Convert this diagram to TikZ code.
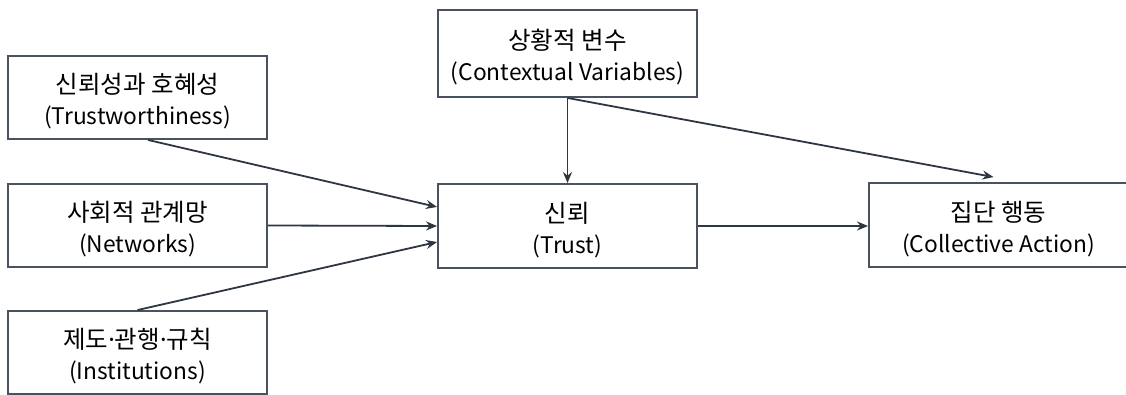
\documentclass[tikz,border=0pt]{standalone}
\usepackage{fontspec}
\setmainfont{Noto Sans CJK KR}
\newfontfamily\dotfont{Noto Sans}
\usetikzlibrary{arrows.meta,positioning}
\definecolor{boxline}{HTML}{4A5260}
\definecolor{arrline}{HTML}{2E3642}
% Korean title line and the English line below it
\newcommand{\kor}[1]{{\fontsize{24.5}{31}\selectfont\rule{0pt}{28pt}#1}}
\newcommand{\mdot}{{\dotfont ·}}
\tikzset{
  blk/.style   ={rectangle,draw=boxline,line width=1.9pt,fill=white,
                 minimum width=259pt,minimum height=83pt,inner sep=0pt,
                 align=center,font=\fontsize{22.8}{31}\selectfont},
  ed/.style    ={-{Stealth[length=11pt,width=9pt]},draw=arrline,line width=1.8pt},
}

\begin{document}
\begin{tikzpicture}[x=1pt, y=1pt]
\useasboundingbox (0,0) rectangle (1126,394);

%% ---------------- boxes ----------------
\node[blk] (trustw) at (137.5,296.5) {\kor{신뢰성과 호혜성}\\(Trustworthiness)};
\node[blk] (netw)   at (137.5,168.5) {\kor{사회적 관계망}\\(Networks)};
\node[blk] (inst)   at (137.5, 41.5) {\kor{제도\mdot 관행\mdot 규칙}\\(Institutions)};

\node[blk,minimum height=87pt] (ctx) at (567.5,340.5) {\kor{상황적 변수}\\(Contextual Variables)};
\node[blk,minimum height=84pt] (trust) at (567.5,168) {\kor{신뢰}\\(Trust)};
\node[blk,minimum height=84pt] (coll)  at (998.5,169) {\kor{집단 행동}\\(Collective Action)};

%% ---------------- edges ----------------
\draw[ed] ([xshift=10.5pt]trustw.south) -- ([yshift=19pt]trust.west);
\draw[ed] (netw.east) -- (trust.west);
\draw[ed] (inst.north) -- ([yshift=-16pt]trust.west);

\draw[ed] (ctx.south) -- (trust.north);
\draw[ed] (ctx.south) -- ([xshift=-5pt,yshift=5pt]coll.north);

\draw[ed] (trust.east) -- (trust.east -| coll.west);

\end{tikzpicture}
\end{document}
